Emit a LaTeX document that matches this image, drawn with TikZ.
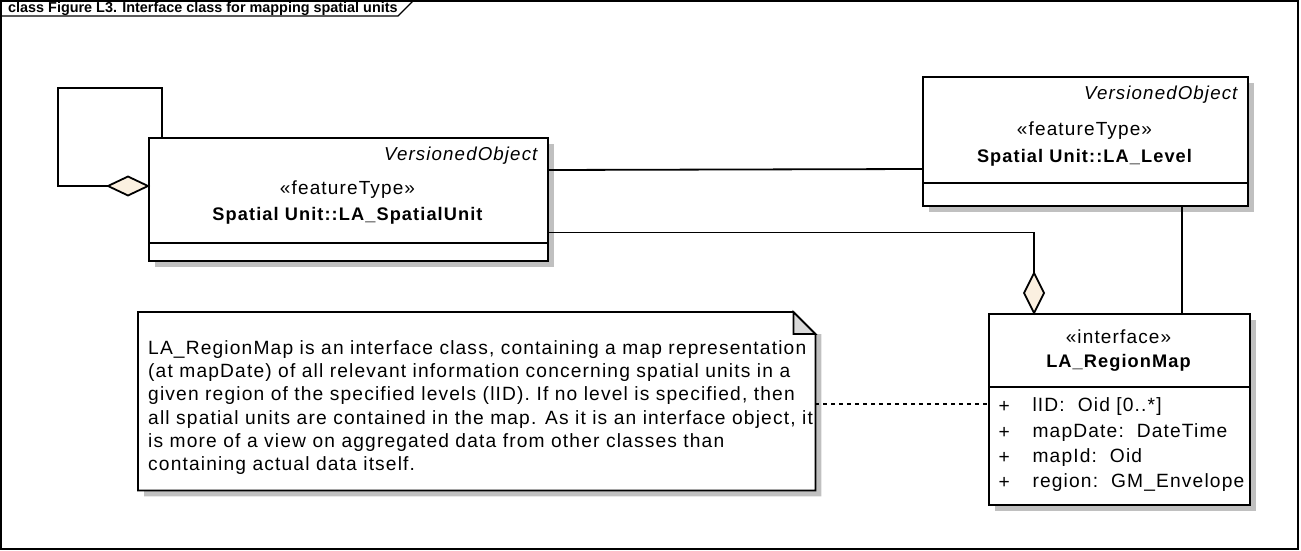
\documentclass[tikz,border=0pt]{standalone}
\usepackage{fontspec}
\setmainfont{Liberation Sans}
\newfontfamily\eafont[LetterSpace=6]{Liberation Sans}
\usetikzlibrary{calc,shadows}
\definecolor{diafill}{HTML}{FBF0E0}
\definecolor{shadowgray}{HTML}{C0C0C0}
\definecolor{foldgray}{HTML}{D9D9D9}
\tikzset{
  cls/.style={draw, fill=white, line width=1.8pt, anchor=north west, inner sep=0pt,
    drop shadow={shadow xshift=6pt, shadow yshift=-6pt, fill=shadowgray, opacity=1}},
  sep/.style={line width=1.8pt},
  conn/.style={line width=1.8pt},
  aggr/.style={draw, line width=1.8pt, fill=diafill},
  vo/.style={font=\eafont\itshape\fontsize{18.7}{21}\selectfont, anchor=east},
  stereo/.style={font=\eafont\fontsize{19}{21}\selectfont},
  cname/.style={font=\eafont\bfseries\fontsize{18.2}{21}\selectfont},
  attr/.style={font=\eafont\fontsize{19.2}{21}\selectfont, anchor=west},
  notetxt/.style={font=\eafont\fontsize{19.2}{21}\selectfont, anchor=base west, inner sep=0pt},
}
\begin{document}
\begin{tikzpicture}[x=1pt, y=-1pt]
\useasboundingbox (0,0) rectangle (1301,551);
% frame
\draw[line width=1.1pt] (1,1) rectangle (1298,549);
\node[anchor=base west, inner sep=0pt, font=\bfseries\fontsize{14.4}{16}\selectfont] (title) at (8,12.5) {class Figure L3. Interface class for mapping spatial units};
\draw[line width=1.1pt] (1,16) -- (398,16) -- (413,1);

% LA_SpatialUnit
\node[cls, minimum width=399, minimum height=123] (su) at (148,137) {};
\draw[sep] (148,243) -- (547,243);
\node[vo] (suvo) at (541,156) {VersionedObject};
\node[stereo] (sust) at (347.5,190) {«featureType»};
\node[cname] (suname) at (347.5,216) {Spatial Unit::LA\_SpatialUnit};

% LA_Level
\node[cls, minimum width=325, minimum height=129] (lv) at (922,76) {};
\draw[sep] (922,183) -- (1247,183);
\node[vo] (lvvo) at (1241,95) {VersionedObject};
\node[stereo] (lvst) at (1084.5,131) {«featureType»};
\node[cname] (lvname) at (1084.5,158) {Spatial Unit::LA\_Level};

% LA_RegionMap
\node[cls, minimum width=261, minimum height=191] (rm) at (988,313) {};
\draw[sep] (988,387) -- (1249,387);
\node[stereo] (rmst) at (1118.5,337) {«interface»};
\node[cname] (rmname) at (1118.5,363) {LA\_RegionMap};
\node[attr] (p1) at (995,407) {+};
\node[attr] (p2) at (995,433) {+};
\node[attr] (p3) at (995,458) {+};
\node[attr] (p4) at (995,483) {+};
\node[attr] (a1) at (1029,407) {lID:\ \ Oid [0..*]};
\node[attr] (a2) at (1029,433) {mapDate:\ \ DateTime};
\node[attr] (a3) at (1029,458) {mapId:\ \ Oid};
\node[attr] (a4) at (1029,483) {region:\ \ GM\_Envelope};

% note
\node[minimum width=677, minimum height=178, anchor=north west, inner sep=0pt] (note) at (138,312) {};
\fill[shadowgray] ($(note.north east)+(0,22)+(6,0)$) -- ($(note.south east)+(6,6)$) -- ($(note.south west)+(6,6)$) -- ($(note.south west)+(6,0)$) -- (note.south east) -- ($(note.north east)+(0,22)$) -- cycle;
\draw[line width=1.8pt, fill=white] (note.north west) -- ($(note.north east)+(-22,0)$) -- ($(note.north east)+(0,22)$) -- (note.south east) -- (note.south west) -- cycle;
\draw[line width=1.8pt, fill=foldgray] ($(note.north east)+(-22,0)$) -- ($(note.north east)+(-22,22)$) -- ($(note.north east)+(0,22)$) -- cycle;
\node[notetxt] (n1) at (148,354) {LA\_RegionMap is an interface class, containing a map representation};
\node[notetxt] (n2) at (148,377.3) {(at mapDate) of all relevant information concerning spatial units in a};
\node[notetxt] (n3) at (148,400.6) {given region of the specified levels (lID). If no level is specified, then};
\node[notetxt] (n4) at (148,424) {all spatial units are contained in the map. As it is an interface object, it};
\node[notetxt] (n5) at (148,447.3) {is more of a view on aggregated data from other classes than};
\node[notetxt] (n6) at (148,470.6) {containing actual data itself.};

% connectors
% self aggregation loop
\coordinate (loopd) at ($(su.north west)+(0,49)$);
\coordinate (loopa) at ($(loopd)+(-40,0)$);
\draw[conn] (loopa) -- ++(-50,0) |- ($(su.north west)+(14,-49)$) -- ($(su.north west)+(14,0)$);
\draw[aggr] (loopd) -- ++(-20,-9.5) -- (loopa) -- ++(20,9.5) -- cycle;

% SpatialUnit -- Level
\draw[conn] ($(su.north east)+(0,33)$) -- ($(lv.north west)+(0,93)$);

% SpatialUnit -- RegionMap (aggregation)
\coordinate (rmd) at ($(rm.north west)+(46,0)$);
\coordinate (rma) at ($(rmd)+(0,-40)$);
\draw[conn] ($(su.north east)+(0,95.5)$) -| (rma);
\draw[aggr] (rmd) -- ++(-10,-20) -- (rma) -- ++(10,20) -- cycle;

% Level -- RegionMap
\draw[conn] ($(lv.south west)+(260,0)$) -- ($(rm.north west)+(194,0)$);

% note link
\draw[line width=1.2pt, dash pattern=on 4pt off 4pt] ($(note.north east)+(0,92)$) -- ($(rm.north west)+(0,91)$);
\end{tikzpicture}
\end{document}
